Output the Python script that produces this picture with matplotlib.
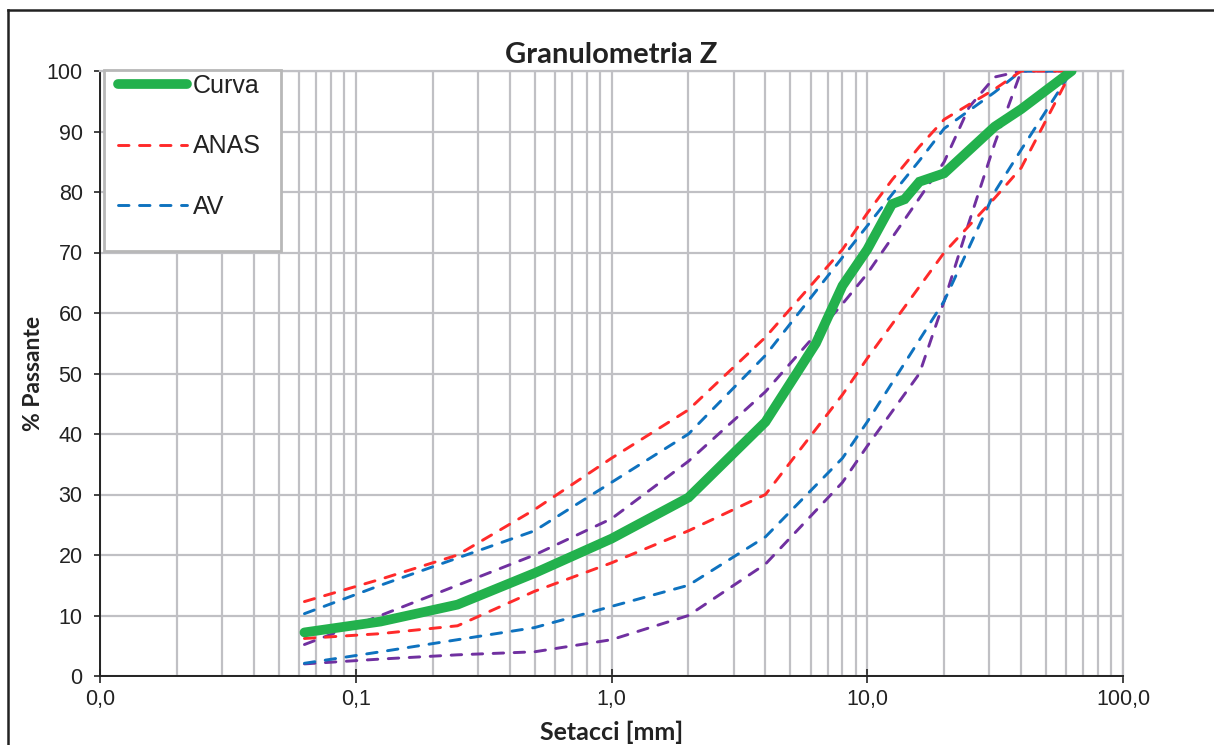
import matplotlib
matplotlib.use("Agg")
import matplotlib.pyplot as plt
from matplotlib.ticker import FixedLocator, FuncFormatter, LogLocator, NullFormatter
from matplotlib.lines import Line2D
from matplotlib.patches import Rectangle

# ---- data ----
curva_x = [0.063, 0.125, 0.25, 0.5, 1, 2, 4, 6.3, 8, 10, 12.5, 14, 16, 20, 31.5, 40, 63]
curva_y = [7.2, 9.0, 11.8, 17.0, 22.7, 29.5, 42.0, 55.0, 64.5, 70.5, 78.0, 78.8, 81.7, 83.1, 90.8, 93.7, 100]

anas_x = [0.063, 0.125, 0.25, 0.5, 1, 2, 4, 8, 10, 12.5, 16, 20, 31.5, 40, 63]
anas_sup = [12.3, 16.0, 20.0, 27.5, 36.0, 44.0, 56.0, 70.5, 76.5, 82.0, 87.5, 92.0, 97.0, 100, 100]
anas_inf_x = [0.063, 0.125, 0.25, 0.5, 1, 2, 4, 8, 10, 20, 31.5, 40, 63]
anas_inf = [6.2, 7.0, 8.3, 14.0, 18.7, 24.0, 30.0, 46.5, 52.5, 70.0, 79.0, 84.0, 100]

av_x = [0.063, 0.125, 0.25, 0.5, 1, 2, 4, 8, 10, 12.5, 16, 20, 31.5, 40, 63]
av_sup = [10.3, 15.0, 19.5, 24.0, 32.0, 40.0, 53.0, 69.2, 74.4, 79.6, 85.2, 90.5, 96.5, 100, 100]
av_inf_x = [0.063, 0.125, 0.25, 0.5, 1, 2, 4, 8, 10, 20, 31.5, 40, 63]
av_inf = [2.1, 4.0, 6.0, 8.0, 11.5, 15.0, 23.0, 36.0, 42.0, 62.0, 80.0, 87.0, 100]

z_x = [0.063, 0.125, 0.25, 0.5, 1, 2, 4, 8, 10, 16, 20, 25, 31.5, 40, 63]
z_sup = [5.2, 10.0, 15.0, 20.0, 26.0, 35.5, 47.0, 61.5, 66.5, 79.0, 85.0, 94.0, 99.0, 100, 100]
z_inf = [2.0, 2.8, 3.5, 4.0, 6.0, 10.0, 18.5, 32.0, 38.0, 50.0, 62.0, 75.0, 88.0, 100, 100]

x_ticks = [0.01, 0.1, 1, 10, 100]
y_ticks = list(range(0, 101, 10))

title = "Granulometria Z"
xlabel = "Setacci [mm]"
ylabel = "% Passante"
legend_labels = ["Curva", "ANAS", "AV"]

# ---- style ----
GREEN = "#23b14d"
RED = "#ff2a2a"
BLUE = "#0e72bf"
PURPLE = "#7030a0"
GRID = "#c0c0c4"
TXT = "#222222"
DASH = (3.6, 3.6)
DLW = 2.1

W, H = 1214, 745
fig = plt.figure(figsize=(W / 100, H / 100), dpi=100)
ax = fig.add_axes([100 / W, 1 - 676 / H, (1123 - 100) / W, (676 - 71) / H])

dash_kw = dict(lw=DLW, dashes=DASH, dash_capstyle="round", solid_capstyle="round")

ax.plot(z_x, z_sup, color=PURPLE, zorder=3, **dash_kw)
ax.plot(z_x, z_inf, color=PURPLE, zorder=3, **dash_kw)
ax.plot(av_x, av_sup, color=BLUE, zorder=3, **dash_kw)
ax.plot(av_inf_x, av_inf, color=BLUE, zorder=3, **dash_kw)
ax.plot(anas_x, anas_sup, color=RED, zorder=3, **dash_kw)
ax.plot(anas_inf_x, anas_inf, color=RED, zorder=3, **dash_kw)
ax.plot(curva_x, curva_y, color=GREEN, lw=7.0, solid_capstyle="round",
        solid_joinstyle="miter", zorder=4)

ax.set_xscale("log")
ax.set_xlim(0.01, 100)
ax.set_ylim(0, 100)

ax.xaxis.set_major_locator(FixedLocator(x_ticks))
ax.xaxis.set_major_formatter(FuncFormatter(lambda v, p: f"{v:.1f}".replace(".", ",")))
ax.xaxis.set_minor_locator(LogLocator(base=10, subs=range(2, 10)))
ax.xaxis.set_minor_formatter(NullFormatter())
ax.yaxis.set_major_locator(FixedLocator(y_ticks))

ax.grid(True, which="both", axis="x", color=GRID, lw=1.6, zorder=0)
ax.grid(True, which="major", axis="y", color=GRID, lw=1.6, zorder=0)
ax.set_axisbelow(True)

for s in ["top", "right"]:
    ax.spines[s].set_color(GRID)
    ax.spines[s].set_linewidth(1.6)
for s in ["left", "bottom"]:
    ax.spines[s].set_color(TXT)
    ax.spines[s].set_linewidth(1.4)

ax.tick_params(axis="x", which="major", direction="inout", length=10, width=1.2,
               color=TXT, labelsize=15.5, pad=4)
ax.tick_params(axis="x", which="minor", length=0)
ax.tick_params(axis="y", which="major", direction="out", length=4.5, width=1.2,
               color=TXT, labelsize=15.5, pad=8)
for lab in ax.get_xticklabels() + ax.get_yticklabels():
    lab.set_family(["Liberation Sans", "DejaVu Sans"])
    lab.set_color(TXT)

ax.set_title(title, fontsize=21, fontweight="bold", family=["Lato", "DejaVu Sans"],
             color=TXT, pad=6)
ax.set_xlabel(xlabel, fontsize=18, fontweight="bold", family=["Lato", "DejaVu Sans"],
              color=TXT, labelpad=8)
ax.set_ylabel(ylabel, fontsize=16.5, fontweight="bold", family=["Lato", "DejaVu Sans"],
              color=TXT, labelpad=2)

# legend box (drawn separately to match the reference's proportions)
box = Rectangle((104 / W, 1 - 251 / H), (281 - 104) / W, (251 - 70) / H,
                transform=fig.transFigure, facecolor="white", edgecolor="#b8b8b8",
                lw=2.0, zorder=9, clip_on=False)
ax.add_patch(box)

handles = [
    Line2D([], [], color=GREEN, lw=7.0, solid_capstyle="round"),
    Line2D([], [], color=RED, lw=DLW, dashes=DASH, dash_capstyle="round"),
    Line2D([], [], color=BLUE, lw=DLW, dashes=DASH, dash_capstyle="round"),
]
leg = ax.legend(handles, legend_labels, loc="upper left",
                bbox_to_anchor=(118 / W, 1 - 74 / H), bbox_transform=fig.transFigure,
                frameon=False, handlelength=2.75, handletextpad=0.25,
                labelspacing=1.45, borderpad=0.0, borderaxespad=0.0,
                prop={"family": ["Liberation Sans", "DejaVu Sans"], "size": 18})
leg.set_zorder(10)
for t in leg.get_texts():
    t.set_color(TXT)

# outer chart frame (partially visible in reference)
fig.add_artist(Line2D([8 / W, 8 / W], [0, 1 - 10 / H], color=TXT, lw=1.8,
                      transform=fig.transFigure))
fig.add_artist(Line2D([8 / W, 1], [1 - 10 / H, 1 - 10 / H], color=TXT, lw=1.8,
                      transform=fig.transFigure))

fig.savefig("out.png", dpi=100, facecolor="white")
